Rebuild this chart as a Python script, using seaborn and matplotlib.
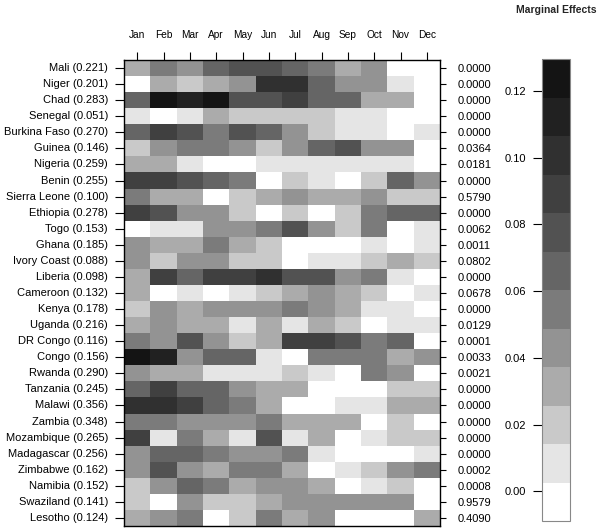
import numpy as np
import pandas as pd
import matplotlib
matplotlib.use("Agg")
import matplotlib.pyplot as plt
from matplotlib.colors import ListedColormap, BoundaryNorm
import seaborn as sns

months = ["Jan", "Feb", "Mar", "Apr", "May", "Jun", "Jul", "Aug", "Sep", "Oct", "Nov", "Dec"]

countries = ["Mali", "Niger", "Chad", "Senegal", "Burkina Faso", "Guinea", "Nigeria",
             "Benin", "Sierra Leone", "Ethiopia", "Togo", "Ghana", "Ivory Coast",
             "Liberia", "Cameroon", "Kenya", "Uganda", "DR Congo", "Congo", "Rwanda",
             "Tanzania", "Malawi", "Zambia", "Mozambique", "Madagascar", "Zimbabwe",
             "Namibia", "Swaziland", "Lesotho"]

country_rates = ["0.221", "0.201", "0.283", "0.051", "0.270", "0.146", "0.259",
                 "0.255", "0.100", "0.278", "0.153", "0.185", "0.088",
                 "0.098", "0.132", "0.178", "0.216", "0.116", "0.156", "0.290",
                 "0.245", "0.356", "0.348", "0.265", "0.256", "0.162",
                 "0.152", "0.141", "0.124"]

p_values = ["0.0000", "0.0000", "0.0000", "0.0000", "0.0000", "0.0364", "0.0181",
            "0.0000", "0.5790", "0.0000", "0.0062", "0.0011", "0.0802",
            "0.0000", "0.0678", "0.0000", "0.0129", "0.0001", "0.0033", "0.0021",
            "0.0000", "0.0000", "0.0000", "0.0000", "0.0000", "0.0002",
            "0.0008", "0.9579", "0.4090"]

# marginal effects by country (rows) and month (columns)
effects = [
    [0.031, 0.055, 0.043, 0.066, 0.078, 0.078, 0.066, 0.055, 0.031, 0.043, 0.000, 0.000],  # Mali
    [0.000, 0.031, 0.020, 0.031, 0.043, 0.101, 0.101, 0.066, 0.043, 0.043, 0.008, 0.000],  # Niger
    [0.066, 0.124, 0.112, 0.124, 0.078, 0.078, 0.089, 0.066, 0.066, 0.031, 0.031, 0.000],  # Chad
    [0.008, 0.000, 0.008, 0.031, 0.020, 0.020, 0.020, 0.020, 0.008, 0.008, 0.000, 0.000],  # Senegal
    [0.066, 0.089, 0.078, 0.055, 0.078, 0.066, 0.043, 0.020, 0.008, 0.008, 0.000, 0.008],  # Burkina Faso
    [0.020, 0.043, 0.055, 0.055, 0.043, 0.020, 0.043, 0.066, 0.078, 0.043, 0.043, 0.000],  # Guinea
    [0.031, 0.031, 0.008, 0.000, 0.000, 0.008, 0.008, 0.008, 0.008, 0.008, 0.008, 0.000],  # Nigeria
    [0.089, 0.089, 0.078, 0.066, 0.055, 0.000, 0.020, 0.008, 0.000, 0.020, 0.066, 0.043],  # Benin
    [0.055, 0.031, 0.031, 0.000, 0.020, 0.031, 0.043, 0.031, 0.031, 0.043, 0.020, 0.020],  # Sierra Leone
    [0.089, 0.078, 0.043, 0.043, 0.020, 0.000, 0.020, 0.000, 0.020, 0.055, 0.066, 0.066],  # Ethiopia
    [0.000, 0.008, 0.008, 0.043, 0.043, 0.055, 0.078, 0.043, 0.020, 0.055, 0.000, 0.008],  # Togo
    [0.043, 0.031, 0.031, 0.055, 0.031, 0.020, 0.000, 0.000, 0.000, 0.008, 0.000, 0.008],  # Ghana
    [0.043, 0.020, 0.043, 0.043, 0.020, 0.020, 0.000, 0.008, 0.008, 0.020, 0.031, 0.020],  # Ivory Coast
    [0.031, 0.089, 0.066, 0.089, 0.089, 0.101, 0.078, 0.078, 0.043, 0.055, 0.008, 0.000],  # Liberia
    [0.031, 0.000, 0.008, 0.000, 0.008, 0.020, 0.031, 0.043, 0.031, 0.020, 0.000, 0.008],  # Cameroon
    [0.020, 0.043, 0.031, 0.043, 0.043, 0.043, 0.055, 0.043, 0.031, 0.008, 0.008, 0.000],  # Kenya
    [0.031, 0.043, 0.031, 0.031, 0.008, 0.031, 0.008, 0.031, 0.020, 0.000, 0.008, 0.008],  # Uganda
    [0.055, 0.043, 0.078, 0.043, 0.020, 0.031, 0.089, 0.089, 0.078, 0.055, 0.066, 0.000],  # DR Congo
    [0.124, 0.112, 0.043, 0.066, 0.066, 0.008, 0.000, 0.055, 0.055, 0.055, 0.031, 0.043],  # Congo
    [0.043, 0.031, 0.031, 0.008, 0.008, 0.008, 0.020, 0.008, 0.000, 0.055, 0.043, 0.000],  # Rwanda
    [0.066, 0.089, 0.066, 0.066, 0.043, 0.031, 0.031, 0.000, 0.000, 0.000, 0.020, 0.020],  # Tanzania
    [0.101, 0.101, 0.089, 0.066, 0.055, 0.031, 0.000, 0.000, 0.008, 0.008, 0.031, 0.031],  # Malawi
    [0.055, 0.055, 0.043, 0.043, 0.043, 0.055, 0.031, 0.031, 0.031, 0.000, 0.020, 0.000],  # Zambia
    [0.089, 0.008, 0.055, 0.031, 0.008, 0.078, 0.008, 0.031, 0.000, 0.008, 0.020, 0.020],  # Mozambique
    [0.043, 0.066, 0.066, 0.055, 0.043, 0.043, 0.055, 0.008, 0.000, 0.000, 0.000, 0.008],  # Madagascar
    [0.043, 0.078, 0.043, 0.031, 0.055, 0.055, 0.031, 0.000, 0.008, 0.020, 0.043, 0.055],  # Zimbabwe
    [0.020, 0.043, 0.066, 0.055, 0.031, 0.043, 0.043, 0.031, 0.000, 0.008, 0.020, 0.000],  # Namibia
    [0.020, 0.000, 0.043, 0.020, 0.020, 0.031, 0.043, 0.043, 0.043, 0.043, 0.043, 0.000],  # Swaziland
    [0.031, 0.043, 0.055, 0.000, 0.020, 0.055, 0.031, 0.043, 0.000, 0.000, 0.000, 0.031],  # Lesotho
]

cbar_ticks = [0.00, 0.02, 0.04, 0.06, 0.08, 0.10, 0.12]

grays = ["#ffffff", "#e5e5e5", "#c9c9c9", "#ababab", "#939393", "#7b7b7b",
         "#656565", "#525252", "#404040", "#303030", "#212121", "#141414"]

sns.set_theme(style="white")
plt.rcParams["font.family"] = ["Liberation Sans", "DejaVu Sans"]

row_labels = [f"{c} ({r})" for c, r in zip(countries, country_rates)]
df = pd.DataFrame(effects, index=row_labels, columns=months)

cmap = ListedColormap(grays)
bounds = np.linspace(-0.0089, 0.1296, len(grays) + 1)
norm = BoundaryNorm(bounds, cmap.N)

fig = plt.figure(figsize=(6.01, 5.29), dpi=100)
ax = fig.add_axes([124 / 601, 1 - 526 / 529, 316 / 601, 466 / 529])
cax = fig.add_axes([542 / 601, 1 - 521 / 529, 28 / 601, 462 / 529])

sns.heatmap(df, ax=ax, cmap=cmap, norm=norm, cbar=True, cbar_ax=cax,
            xticklabels=months, yticklabels=row_labels, linewidths=0)

for s in ax.spines.values():
    s.set_visible(True)
    s.set_linewidth(1.0)
    s.set_color("black")

ax.xaxis.tick_top()
ax.tick_params(axis="x", top=True, bottom=False, labeltop=True, labelbottom=False,
               length=5.5, width=0.8, pad=9, labelsize=7.3, colors="black", direction="out")
ax.tick_params(axis="y", left=True, length=6.5, width=0.8, pad=5, labelsize=8,
               colors="black", direction="out")
plt.setp(ax.get_xticklabels(), rotation=0)
plt.setp(ax.get_yticklabels(), rotation=0)
ax.set_xlabel("")
ax.set_ylabel("")

ax2 = ax.twinx()
ax2.set_ylim(ax.get_ylim())
ax2.set_yticks(ax.get_yticks())
ax2.set_yticklabels(p_values)
ax2.tick_params(axis="y", right=True, length=4.5, width=0.8, pad=8, labelsize=8,
                colors="black", direction="out")
for s in ax2.spines.values():
    s.set_visible(False)
ax2.grid(False)

cb = ax.collections[0].colorbar
cb.minorticks_off()
cb.set_ticks(cbar_ticks)
cb.set_ticklabels([f"{t:.2f}" for t in cbar_ticks])
cax.yaxis.set_ticks_position("left")
cax.tick_params(axis="y", which="major", left=True, right=False, length=6.5, width=0.8,
                pad=5, labelsize=8, colors="black", direction="out")
cax.tick_params(axis="y", which="minor", left=False, right=False, length=0)
cb.outline.set_visible(True)
cb.outline.set_linewidth(0.8)
cb.outline.set_edgecolor("#888888")

fig.text(556 / 601, 1 - 10 / 529, "Marginal Effects", ha="center", va="center",
         fontsize=7.5, fontweight="bold")

fig.savefig("out.png", dpi=100)
